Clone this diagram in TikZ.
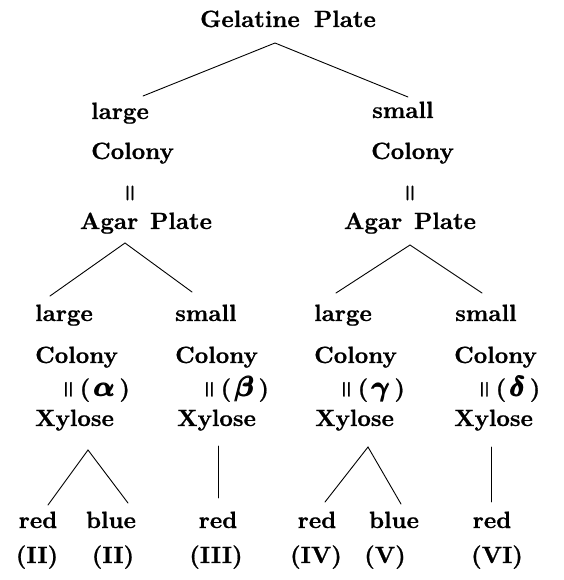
\documentclass[tikz,border=0pt]{standalone}
\usepackage{amsmath}
\usepackage{bm}
\usepackage{fontspec}
\newfontfamily\heavy{lmroman10-bold.otf}[FakeBold=0.8]
\begin{document}
\newcommand{\mydbar}{\raisebox{3pt}{\scalebox{1}[0.62]{|\kern-2.5pt|}}}
\newcommand{\mygr}[1]{\mydbar\hspace{5pt}(\hspace{4pt}\scalebox{1.12}{$\pmb{\bm{#1}}$}\hspace{4pt})}
\begin{tikzpicture}[x=1pt,y=-1pt,
  lbl/.style={inner sep=0pt, font=\fontsize{23.5}{28}\selectfont\heavy},
  lw/.style={lbl, anchor=base west},
  lc/.style={lbl, anchor=base},
  conn/.style={line width=0.9pt, line cap=round}]
\useasboundingbox (0,0) rectangle (563,580);
% top
\node[lc] (gel) at (288,27) {Gelatine\hspace{0.6em}Plate};
% level 1
\node[lw] (lg1) at (91,119) {large};
\node[lw] (sm1) at (372,118) {small};
\node[lw] (co1) at (91,159) {Colony};
\node[lw] (co2) at (371,159) {Colony};
\node[lbl] (eq1) at (130,193) {\mydbar};
\node[lbl] (eq2) at (410,193) {\mydbar};
\node[lc] (ag1) at (146,229) {Agar\hspace{0.5em}Plate};
\node[lc] (ag2) at (410,229) {Agar\hspace{0.5em}Plate};
% level 2
\node[lw] (lg3) at (35,321) {large};
\node[lw] (sm3) at (175,321) {small};
\node[lw] (lg4) at (314,321) {large};
\node[lw] (sm4) at (455,321) {small};
\node[lw] (c3) at (35,363) {Colony};
\node[lw] (c4) at (175,363) {Colony};
\node[lw] (c5) at (314,363) {Colony};
\node[lw] (c6) at (454,363) {Colony};
\node[lw] (ga) at (62,396) {\mygr{\alpha}};
\node[lw] (gb) at (203,396) {\mygr{\beta}};
\node[lw] (gc) at (340,396) {\mygr{\gamma}};
\node[lw] (gd) at (478,396) {\mygr{\delta}};
\node[lw] (x1) at (35,426) {Xylose};
\node[lw] (x2) at (177,426) {Xylose};
\node[lw] (x3) at (315,426) {Xylose};
\node[lw] (x4) at (454,426) {Xylose};
% level 3
\node[lc] (r1) at (38,528) {red};
\node[lc] (b2) at (111,528) {blue};
\node[lc] (r3) at (218,528) {red};
\node[lc] (r4) at (317,528) {red};
\node[lc] (b5) at (394,528) {blue};
\node[lc] (r6) at (492,528) {red};
\node[lc] (n1) at (37,563) {(II)};
\node[lc] (n2) at (113,563) {(II)};
\node[lc] (n3) at (216,563) {(III)};
\node[lc] (n4) at (316,563) {(IV)};
\node[lc] (n5) at (385,563) {(V)};
\node[lc] (n6) at (497,563) {(VI)};
% connector end points
\coordinate (gA) at (275,43);
\coordinate (gL) at (143,96);
\coordinate (gR) at (408,97);
\coordinate (aA1) at (125,243);
\coordinate (aL1) at (50,296);
\coordinate (aR1) at (192,292);
\coordinate (aA2) at (410,245);
\coordinate (aL2) at (336,293);
\coordinate (aR2) at (482,293);
\coordinate (xA1) at (88,450);
\coordinate (xL1) at (48,505);
\coordinate (xR1) at (128,503);
\coordinate (xT2) at (218,446);
\coordinate (xB2) at (218,498);
\coordinate (xA3) at (368,447);
\coordinate (xL3) at (325,502);
\coordinate (xR3) at (401,504);
\coordinate (xT4) at (491,447);
\coordinate (xB4) at (491,502);
% connectors
\draw[conn] (gL) -- (gA) -- (gR);
\draw[conn] (aL1) -- (aA1) -- (aR1);
\draw[conn] (aL2) -- (aA2) -- (aR2);
\draw[conn] (xL1) -- (xA1) -- (xR1);
\draw[conn] (xT2) -- (xB2);
\draw[conn] (xL3) -- (xA3) -- (xR3);
\draw[conn] (xT4) -- (xB4);
\end{tikzpicture}
\end{document}
